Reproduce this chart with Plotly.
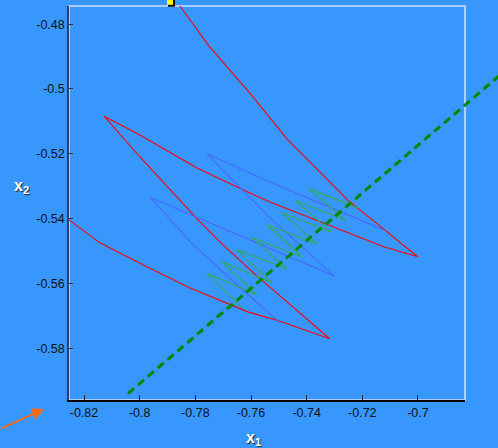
import plotly.graph_objects as go

# ---- data ----
red_x = [-0.7877, -0.7852, -0.7751, -0.7604, -0.7468, -0.7245, -0.7173, -0.7001,
         -0.7123, -0.7371, -0.7532, -0.7604, -0.7794, -0.7999, -0.8128,
         -0.7999, -0.7891, -0.7794, -0.7701, -0.7575, -0.7317,
         -0.7493, -0.7611, -0.7701, -0.7819, -0.7974, -0.8143, -0.8254, -0.8304]
red_y = [-0.4717, -0.4748, -0.4868, -0.5013, -0.5157, -0.5349, -0.5398, -0.5518,
         -0.5487, -0.5404, -0.5349, -0.5321, -0.5244, -0.5142, -0.5084,
         -0.5210, -0.5312, -0.5401, -0.5481, -0.5580, -0.5771,
         -0.5718, -0.5688, -0.5657, -0.5614, -0.5549, -0.5475, -0.5404, -0.5370]

blue_x = [-0.7123, -0.7532, -0.7758, -0.7532, -0.7302, -0.7959, -0.7819, -0.7658, -0.7496]
blue_y = [-0.5435, -0.5287, -0.5201, -0.5398, -0.5577, -0.5336, -0.5472, -0.5598, -0.5721]

green_x = [-0.7216, -0.7389, -0.7263, -0.7439, -0.7313, -0.7489, -0.7363, -0.7543, -0.7417,
           -0.7597, -0.7471, -0.7651, -0.7525, -0.7705, -0.7579, -0.7758, -0.7633]
green_y = [-0.5367, -0.5309, -0.5404, -0.5345, -0.5441, -0.5382, -0.5478, -0.5419, -0.5518,
           -0.5459, -0.5555, -0.5496, -0.5598, -0.5533, -0.5635, -0.5570, -0.5675]

valley_x = [-0.8042, -0.6600]
valley_y = [-0.5940, -0.4880]

start_x = [-0.7891]
start_y = [-0.4731]

x_ticks = [-0.82, -0.80, -0.78, -0.76, -0.74, -0.72, -0.70]
x_ticklabels = ["-0.82", "-0.8", "-0.78", "-0.76", "-0.74", "-0.72", "-0.7"]
y_ticks = [-0.48, -0.50, -0.52, -0.54, -0.56, -0.58]
y_ticklabels = ["-0.48", "-0.5", "-0.52", "-0.54", "-0.56", "-0.58"]

x_range = [-0.8254, -0.6831]
y_range = [-0.5960, -0.4744]

# ---- figure ----
BG = "#3797FD"
fig = go.Figure()

fig.add_trace(go.Scatter(x=red_x, y=red_y, mode="lines",
                         line=dict(color="#FF0000", width=1.1), hoverinfo="skip"))
fig.add_trace(go.Scatter(x=blue_x, y=blue_y, mode="lines",
                         line=dict(color="#4A68FF", width=1.2), hoverinfo="skip"))
fig.add_trace(go.Scatter(x=green_x, y=green_y, mode="lines",
                         line=dict(color="#38A858", width=1.2), hoverinfo="skip"))


def to_paper(v, r):
    return (v - r[0]) / (r[1] - r[0])


shapes = [
    # light frame (top/right)
    dict(type="rect", xref="paper", yref="paper", x0=0, y0=0, x1=1, y1=1,
         line=dict(color="#D6DEF2", width=1.6), layer="below"),
    # valley line (not clipped to the axes)
    dict(type="line", xref="paper", yref="paper",
         x0=to_paper(valley_x[0], x_range), y0=to_paper(valley_y[0], y_range),
         x1=to_paper(valley_x[1], x_range), y1=to_paper(valley_y[1], y_range),
         line=dict(color="#008A00", width=3, dash="8px,5px"), layer="above"),
]
# start marker (square with a dark shadow) placed from the data point
for sx, sy in zip(start_x, start_y):
    px_, py_ = to_paper(sx, x_range), to_paper(sy, y_range)
    shapes.append(dict(type="rect", xref="paper", yref="paper",
                       xsizemode="pixel", ysizemode="pixel",
                       xanchor=px_, yanchor=py_, x0=-2, x1=5, y0=-5, y1=2,
                       fillcolor="#111111", line=dict(width=0), layer="above"))
    shapes.append(dict(type="rect", xref="paper", yref="paper",
                       xsizemode="pixel", ysizemode="pixel",
                       xanchor=px_, yanchor=py_, x0=-3, x1=3, y0=-3, y1=3,
                       fillcolor="#FFFF00", line=dict(width=0), layer="above"))

title_font = dict(family="Liberation Sans", size=16, color="white",
                  shadow="1px 1px 1px #223")
annotations = [
    dict(text="<b>x<sub>1</sub></b>", xref="paper", yref="paper", x=0.465, y=-0.097,
         showarrow=False, font=title_font, xanchor="center", yanchor="middle"),
    dict(text="<b>x<sub>2</sub></b>", xref="paper", yref="paper", x=-0.119, y=0.543,
         showarrow=False, font=title_font, xanchor="center", yanchor="middle"),
    dict(text="", xref="paper", yref="paper", x=-0.063, y=-0.023,
         showarrow=True, ax=-46, ay=20, arrowhead=2, arrowsize=1.2, arrowwidth=2,
         arrowcolor="#FF6A10"),
]

fig.update_layout(
    width=498, height=448,
    margin=dict(l=69, r=33, t=6, b=48),
    paper_bgcolor=BG, plot_bgcolor=BG,
    showlegend=False,
    shapes=shapes, annotations=annotations,
    font=dict(family="Liberation Sans", size=12, color="#111111"),
)
fig.update_xaxes(range=x_range, tickvals=x_ticks, ticktext=x_ticklabels,
                 showgrid=False, zeroline=False, showline=True, linecolor="#000000",
                 linewidth=1.5, ticks="inside", ticklen=5, tickcolor="#222222",
                 tickfont=dict(size=12.5, color="#111111"))
fig.update_yaxes(range=y_range, tickvals=y_ticks, ticktext=y_ticklabels,
                 showgrid=False, zeroline=False, showline=True, linecolor="#3A3A50",
                 linewidth=1.5, ticks="inside", ticklen=4, tickcolor="#333333",
                 tickfont=dict(size=12.5, color="#111111"))

fig.write_html("out.html", config={"displayModeBar": False},
               post_script="document.body.style.margin='0';document.body.style.background='" + BG + "';")
